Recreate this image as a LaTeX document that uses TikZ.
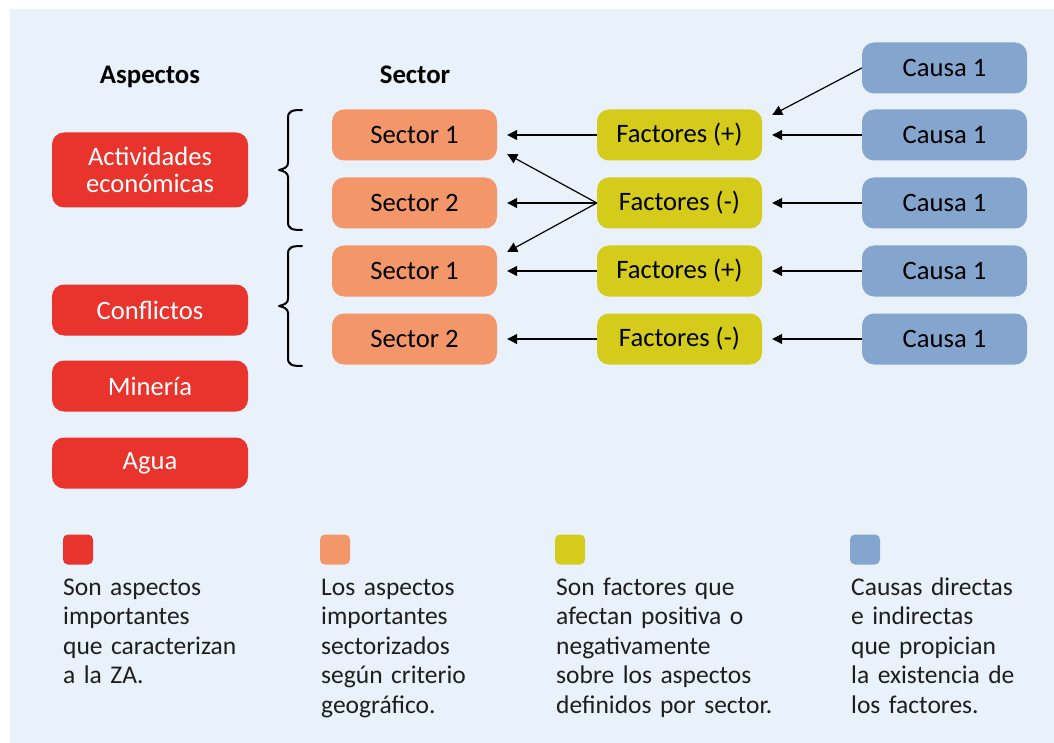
\documentclass[tikz,border=0pt]{standalone}
\usepackage{fontspec}
\setmainfont{Carlito}
\usetikzlibrary{arrows.meta}
\definecolor{bgc}{HTML}{E9F1FB}
\definecolor{redc}{HTML}{E8342C}
\definecolor{orac}{HTML}{F3976A}
\definecolor{yelc}{HTML}{D4CB1A}
\definecolor{bluc}{HTML}{84A5CD}
\definecolor{txtc}{HTML}{1E1E1E}
\tikzset{
  box/.style={rounded corners=12pt, minimum width=165pt, minimum height=51pt, inner sep=0pt,
    font=\fontsize{26.6}{26.5}\selectfont, text=black, align=center},
  aspbox/.style={box, fill=redc, minimum width=196pt, text=white},
  secbox/.style={box, fill=orac},
  facbox/.style={box, fill=yelc},
  caubox/.style={box, fill=bluc},
  head/.style={font=\fontsize{26.8}{27}\selectfont\bfseries, inner sep=0pt, anchor=base},
  arr/.style={line width=1.2pt, -{Triangle[length=10pt,width=10pt]}, shorten >=0pt},
  bracec/.style={line width=2pt, line cap=round, line join=round},
  legsq/.style={rounded corners=5pt, minimum width=30pt, minimum height=30pt, inner sep=0pt},
  legtx/.style={anchor=base west, inner sep=0pt, text width=230pt, align=left, text=txtc,
    font=\fontsize{25.5}{29.5}\selectfont},
}
\begin{document}
\begin{tikzpicture}[x=1pt,y=-1pt]
\useasboundingbox (0,0) rectangle (1054,743);
\fill[bgc] (10,9) rectangle (1054,743);

% headers
\node[head] (hasp) at (150,84) {Aspectos};
\node[head] (hsec) at (415,84) {Sector};

% aspects
\node[aspbox, minimum height=75pt] (a1) at (150,170) {Actividades\\económicas};
\node[aspbox] (a2) at (150,310) {Conflictos};
\node[aspbox] (a3) at (150,386) {Minería};
\node[aspbox] (a4) at (150,463) {Agua};

% sectors
\node[secbox] (s1) at (414.5,135) {Sector 1};
\node[secbox] (s2) at (414.5,203) {Sector 2};
\node[secbox] (s3) at (414.5,271) {Sector 1};
\node[secbox] (s4) at (414.5,339) {Sector 2};

% factors
\node[facbox] (f1) at (679.5,135) {Factores (+)};
\node[facbox] (f2) at (679.5,203) {Factores (-)};
\node[facbox] (f3) at (679.5,271) {Factores (+)};
\node[facbox] (f4) at (679.5,339) {Factores (-)};

% causes
\node[caubox] (c0) at (944.5,68) {Causa 1};
\node[caubox] (c1) at (944.5,135) {Causa 1};
\node[caubox] (c2) at (944.5,203) {Causa 1};
\node[caubox] (c3) at (944.5,271) {Causa 1};
\node[caubox] (c4) at (944.5,339) {Causa 1};

% braces
\draw[bracec] (302,110) .. controls (292,110) and (288,111) .. (288,118) -- (288,163)
  .. controls (288,167) and (284,169) .. (279,170)
  .. controls (284,171) and (288,173) .. (288,177) -- (288,222)
  .. controls (288,229) and (292,230) .. (302,230);
\draw[bracec] (302,246) .. controls (292,246) and (288,247) .. (288,254) -- (288,299)
  .. controls (288,303) and (284,305) .. (279,306)
  .. controls (284,307) and (288,309) .. (288,313) -- (288,358)
  .. controls (288,365) and (292,366) .. (302,366);

% arrows factors -> sectors
\draw[arr] (f1.west) -- ([xshift=10pt]s1.east);
\draw[arr] (f2.west) -- ([xshift=10pt]s2.east);
\draw[arr] (f3.west) -- ([xshift=10pt]s3.east);
\draw[arr] (f4.west) -- ([xshift=10pt]s4.east);
\draw[arr] (f2.west) -- ([xshift=10pt,yshift=-19pt]s1.east);
\draw[arr] (f2.west) -- ([xshift=10pt,yshift=19pt]s3.east);

% arrows causes -> factors
\draw[arr] (c1.west) -- ([xshift=10pt]f1.east);
\draw[arr] (c2.west) -- ([xshift=10pt]f2.east);
\draw[arr] (c3.west) -- ([xshift=10pt]f3.east);
\draw[arr] (c4.west) -- ([xshift=10pt]f4.east);
\draw[arr] (c0.west) -- ([xshift=10pt,yshift=20pt]f1.east);

% legend
\node[legsq, fill=redc] (l1) at (78,549.5) {};
\node[legsq, fill=orac] (l2) at (335,549.5) {};
\node[legsq, fill=yelc] (l3) at (570,549.5) {};
\node[legsq, fill=bluc] (l4) at (865,549.5) {};

\node[legtx] (t1) at (63,595) {Son aspectos\\importantes\\que caracterizan\\a la ZA.};
\node[legtx] (t2) at (321,595) {Los aspectos\\importantes\\sectorizados\\según criterio\\geográfico.};
\node[legtx] (t3) at (556,595) {Son factores que\\afectan positiva o\\negativamente\\sobre los aspectos\\definidos por sector.};
\node[legtx] (t4) at (851,595) {Causas directas\\e indirectas\\que propician\\la existencia de\\los factores.};
\end{tikzpicture}
\end{document}
